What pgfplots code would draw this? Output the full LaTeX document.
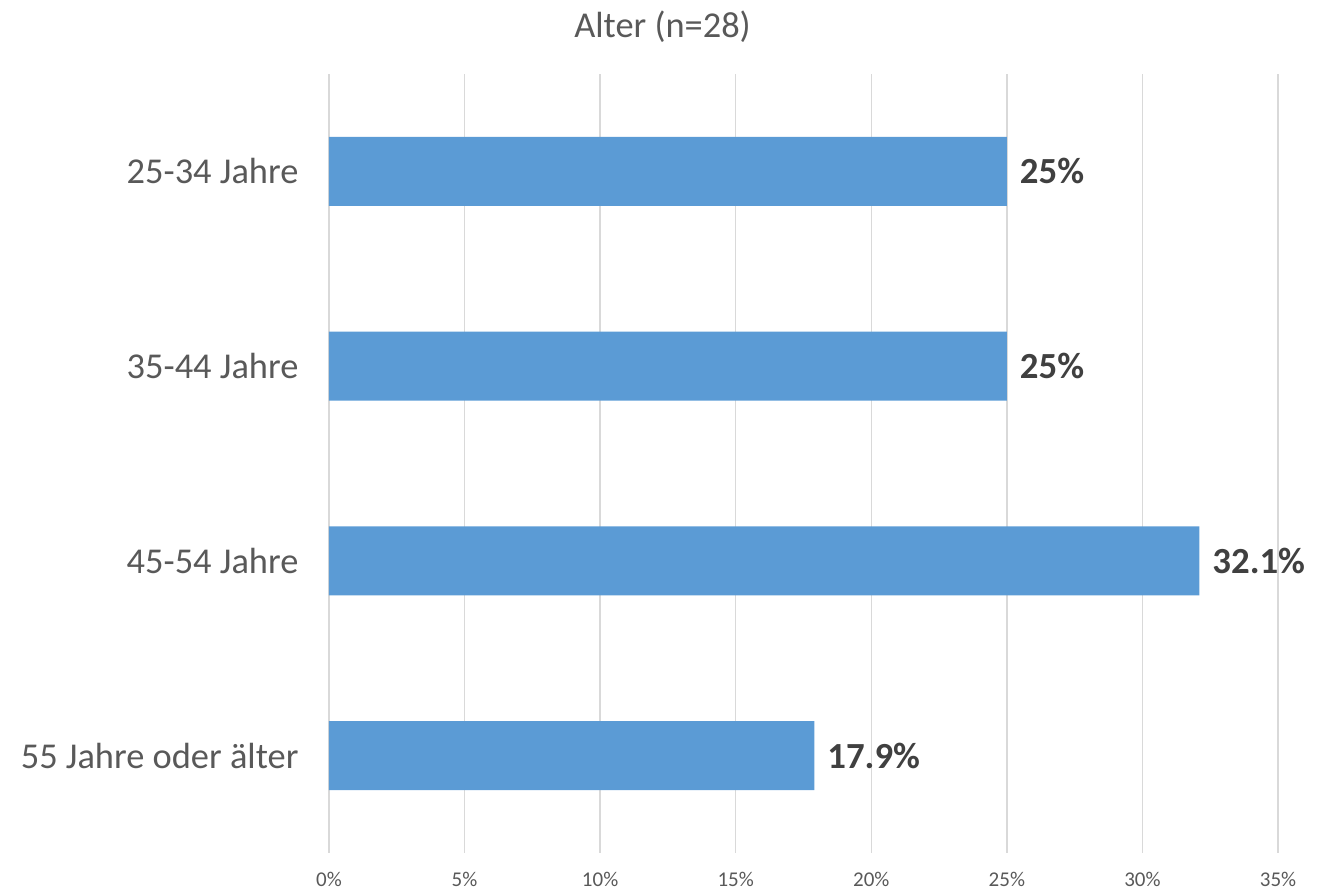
\documentclass[border=0pt]{standalone}
\usepackage{fontspec}
\setmainfont{Carlito}
\usepackage{pgfplots}
\pgfplotsset{compat=1.18}
\definecolor{barblue}{HTML}{5B9BD5}
\definecolor{gridgray}{HTML}{D9D9D9}
\definecolor{labelgray}{HTML}{595959}
\definecolor{valgray}{HTML}{404040}

\begin{document}
\begin{tikzpicture}
\useasboundingbox (-164.5pt,-19pt) rectangle (498pt,426.5pt);
\begin{axis}[
    scale only axis, width=474.5pt, height=389.5pt,
    xbar, bar width=0.355,
    xmin=0, xmax=35, ymin=-0.5, ymax=3.5, y dir=reverse,
    xtick={0,5,...,35}, ytick={0,1,2,3},
    yticklabels={25-34 Jahre, 35-44 Jahre, 45-54 Jahre, 55 Jahre oder älter},
    /pgf/number format/assume math mode=true,
    xticklabel={\pgfmathprintnumber{\tick}\%},
    xticklabel style={font=\fontsize{10.5}{12}\selectfont, text=labelgray, yshift=-6pt},
    yticklabel style={font=\fontsize{18.2}{21}\selectfont, text=labelgray, xshift=-7.5pt},
    xmajorgrids, major grid style={gridgray, line width=0.75pt},
    axis line style={draw=none}, tick style={draw=none},
    point meta=x,
    nodes near coords={\pgfmathprintnumber[fixed,precision=1]{\pgfplotspointmeta}\%},
    nodes near coords style={font=\fontsize{18.4}{21}\selectfont\bfseries, text=valgray, anchor=west, xshift=3pt},
]
\addplot[fill=barblue, draw=none] coordinates {(25,0) (25,1) (32.1,2) (17.9,3)};
\end{axis}
\node[font=\fontsize{18.2}{21}\selectfont, text=labelgray] at (166.75pt,413pt) {Alter (n=28)};
\end{tikzpicture}
\end{document}
